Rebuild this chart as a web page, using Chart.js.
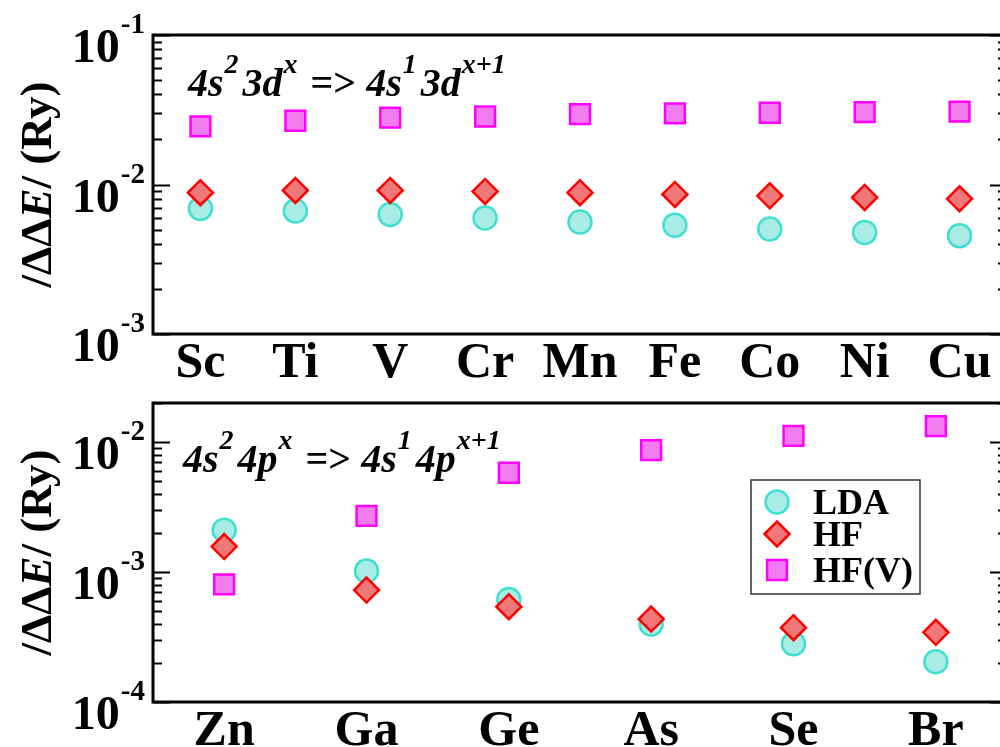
<!DOCTYPE html>
<html><head><meta charset="utf-8">
<script src="https://cdn.jsdelivr.net/npm/chart.js@4.4.1/dist/chart.umd.min.js"></script>
<style>
html,body{margin:0;padding:0;background:#fff;overflow:hidden;width:1000px;height:747px;}
.clip{position:absolute;left:0;width:1000px;overflow:hidden;}
#w1{top:0;height:380px;}
#w2{top:380px;height:367px;}
canvas{display:block;}
</style></head><body>
<div class="clip" id="w1"><canvas id="c1" width="1010" height="380" style="width:1010px;height:380px"></canvas></div>
<div class="clip" id="w2"><canvas id="c2" width="1010" height="367" style="width:1010px;height:367px"></canvas></div>
<script>
// ---- data ----
const topCategories = ['Sc','Ti','V','Cr','Mn','Fe','Co','Ni','Cu'];
const topLDA = [0.00692,0.00664,0.00631,0.00596,0.00561,0.00533,0.00504,0.00477,0.00455];
const topHF  = [0.00881,0.00912,0.00912,0.00898,0.00881,0.00858,0.00840,0.00819,0.00802];
const topHFV = [0.0245,0.0267,0.0280,0.0285,0.0296,0.0299,0.0302,0.0305,0.0307];
const topYExponents = [-3,-2,-1];

const bottomCategories = ['Zn','Ga','Ge','As','Se','Br'];
const bottomLDA = [0.00210,0.00102,0.000616,0.000398,0.000281,0.000204];
const bottomHF  = [0.00157,0.000727,0.000541,0.000435,0.000373,0.000344];
const bottomHFV = [0.000804,0.00271,0.00581,0.00868,0.01117,0.01328];
const bottomYExponents = [-4,-3,-2];

const seriesNames = ['LDA','HF','HF(V)'];

const SERIF = "'Liberation Serif', 'Times New Roman', serif";

function datasets(lda, hf, hfv) {
  return [
    {label: seriesNames[0], data: lda, showLine:false, pointStyle:'circle', pointRadius:11.5,
     pointBorderWidth:2.5, pointBorderColor:'#40e0d0', pointBackgroundColor:'#a9ece5', order:3},
    {label: seriesNames[1], data: hf, showLine:false, pointStyle:'rectRot', pointRadius:12.5,
     pointBorderWidth:2.5, pointBorderColor:'#ff0000', pointBackgroundColor:'#f07878', order:2},
    {label: seriesNames[2], data: hfv, showLine:false, pointStyle:'rect', pointRadius:14,
     pointBorderWidth:2.5, pointBorderColor:'#ff00ff', pointBackgroundColor:'#f07cf0', order:1}
  ];
}

function drawPieces(ctx, pieces, x, y) {
  for (const p of pieces) {
    ctx.font = p.font;
    ctx.fillText(p.t, x, y + (p.dy || 0));
    x += ctx.measureText(p.t).width + (p.gap || 0);
  }
  return x;
}
function piecesWidth(ctx, pieces) {
  let w = 0;
  for (const p of pieces) { ctx.font = p.font; w += ctx.measureText(p.t).width + (p.gap || 0); }
  return w;
}

function decorPlugin(cfg) {
  return {
    id: 'decor',
    beforeDatasetsDraw(chart) {
      const ctx = chart.ctx, a = chart.chartArea, y = chart.scales.y;
      ctx.save();
      ctx.strokeStyle = '#000';
      ctx.lineWidth = 2;
      const e0 = Math.floor(Math.log10(y.min)), e1 = Math.ceil(Math.log10(y.max));
      for (let e = e0; e <= e1; e++) {
        for (let m = 1; m <= 9; m++) {
          const v = m * Math.pow(10, e);
          if (v < y.min * 0.999 || v > y.max * 1.001) continue;
          const py = Math.round(y.getPixelForValue(v)) + 0.5;
          const len = m === 1 ? 17 : 9;
          ctx.beginPath();
          ctx.moveTo(a.left, py); ctx.lineTo(a.left + len, py);
          ctx.moveTo(a.right, py); ctx.lineTo(a.right - len, py);
          ctx.stroke();
        }
      }
      ctx.lineWidth = 3;
      ctx.strokeRect(a.left, a.top, a.right - a.left, a.bottom - a.top);

      // y tick labels 10^n
      ctx.fillStyle = '#000';
      ctx.textAlign = 'left';
      ctx.textBaseline = 'alphabetic';
      for (const e of cfg.exps) {
        const py = y.getPixelForValue(Math.pow(10, e));
        const sup = String(e);
        ctx.font = 'bold 29px ' + SERIF;
        const sw = ctx.measureText(sup).width;
        ctx.font = 'bold 48px ' + SERIF;
        const bw = ctx.measureText('10').width;
        const xr = a.left - 8;
        ctx.fillText('10', xr - sw - bw - 1, py + 27);
        ctx.font = 'bold 29px ' + SERIF;
        ctx.fillText(sup, xr - sw, py - 2);
      }

      // y axis title
      const tp = [
        {t:'/\u0394\u0394', font:'bold 45px ' + SERIF},
        {t:'E', font:'italic bold 45px ' + SERIF},
        {t:'/ (Ry)', font:'bold 45px ' + SERIF}
      ];
      ctx.save();
      ctx.translate(39, (a.top + a.bottom) / 2);
      ctx.rotate(-Math.PI / 2);
      ctx.textBaseline = 'middle';
      const tw = piecesWidth(ctx, tp);
      drawPieces(ctx, tp, -tw / 2, 0);
      ctx.restore();

      // annotation
      const M = 'italic bold 40px ' + SERIF, S = 'italic bold 28px ' + SERIF;
      const ap = [
        {t:'4s', font:M, gap:1}, {t:'2', font:S, dy:-23, gap:4}, {t:cfg.shell + cfg.orb, font:M, gap:1},
        {t:'x', font:S, dy:-23, gap:3},
        {t:' => ', font:'bold 40px ' + SERIF}, {t:'4s', font:M, gap:1}, {t:'1', font:S, dy:-23, gap:4},
        {t:cfg.shell + cfg.orb, font:M, gap:1}, {t:'x+1', font:S, dy:-23}
      ];
      drawPieces(ctx, ap, a.left + cfg.annX, a.top + cfg.annY);

      // legend
      if (cfg.legend) {
        const L = cfg.legend;
        ctx.lineWidth = 1.5;
        ctx.strokeStyle = '#333';
        ctx.strokeRect(L.x, L.y, L.w, L.h);
        chart.data.datasets.forEach((ds, i) => {
          const cy = L.y + L.rows[i];
          ctx.fillStyle = ds.pointBackgroundColor;
          ctx.strokeStyle = ds.pointBorderColor;
          ctx.lineWidth = ds.pointBorderWidth;
          Chart.helpers.drawPoint(ctx, {pointStyle: ds.pointStyle, radius: ds.pointRadius, rotation: 0,
            borderWidth: ds.pointBorderWidth}, L.x + 26, cy);
          ctx.fillStyle = '#000';
          ctx.font = 'bold 36px ' + SERIF;
          ctx.textBaseline = 'alphabetic';
          ctx.fillText(ds.label, L.x + 62, cy + 12);
        });
      }
      ctx.restore();
    }
  };
}

function makeChart(id, cats, lda, hf, hfv, yMin, yMax, H, top, bottom, cfg) {
  return new Chart(document.getElementById(id), {
    type: 'line',
    data: {labels: cats, datasets: datasets(lda, hf, hfv)},
    options: {
      responsive: false, maintainAspectRatio: false, animation: false, devicePixelRatio: 1,
      layout: {autoPadding: false, padding: {top: top, right: 3, left: 0, bottom: 0}},
      plugins: {legend: {display: false}, tooltip: {enabled: false}},
      events: [],
      scales: {
        x: {type: 'category', offset: true,
            grid: {display: false, drawTicks: false}, border: {display: false},
            ticks: {color: '#000', font: {family: SERIF, size: 50, weight: 'bold'}, padding: 0,
                    autoSkip: false, maxRotation: 0, minRotation: 0},
            afterFit: s => { s.height = H - bottom; }},
        y: {type: 'logarithmic', min: yMin, max: yMax,
            grid: {display: false, drawTicks: false}, border: {display: false},
            ticks: {display: false},
            afterFit: s => { s.width = 153; }}
      }
    },
    plugins: [decorPlugin(cfg)]
  });
}

makeChart('c1', topCategories, topLDA, topHF, topHFV, 1e-3, 1e-1, 380, 35, 334,
  {exps: topYExponents, shell: '3', orb: 'd', annX: 35, annY: 61});
makeChart('c2', bottomCategories, bottomLDA, bottomHF, bottomHFV, 1e-4, 0.02, 367, 23, 322,
  {exps: bottomYExponents, shell: '4', orb: 'p', annX: 30, annY: 69,
   legend: {x: 751, y: 100, w: 169, h: 114, rows: [22, 54, 90]}});
</script>
</body></html>
